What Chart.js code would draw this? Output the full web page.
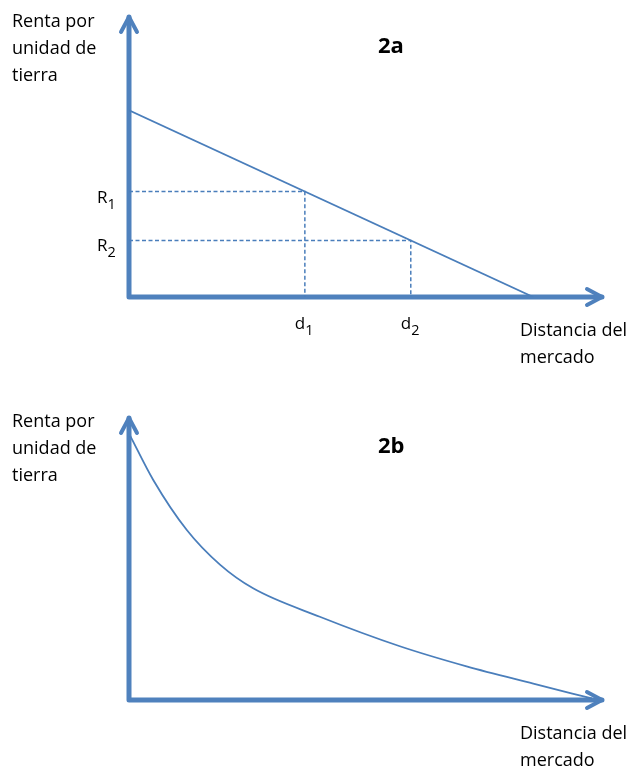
<!DOCTYPE html>
<html lang="es">
<head>
    <meta charset="UTF-8">
    <title>Renta por unidad de tierra - 2a / 2b</title>
    <script src="https://cdn.jsdelivr.net/npm/chart.js"></script>
    <style>
        body { margin: 0; background: #fff; overflow: hidden; }
        #page {
          position: relative; width: 632px; height: 767px; overflow: hidden;
          font-family: "Open Sans", sans-serif; font-size: 18px; color: #000;
        }
        canvas { position: absolute; left: 0; }
        .lbl { position: absolute; line-height: 27px; white-space: nowrap; }
        .mark { font-size: 17px; }
        .title { font-weight: bold; font-size: 22px; }
        sub { font-size: 0.85em; vertical-align: -0.4em; line-height: 0; }
    </style>
</head>
<body>
<div id="page">
    <canvas id="chartA" width="632" height="380" style="top:0"></canvas>
    <canvas id="chartB" width="632" height="367" style="top:400px"></canvas>
</div>
<script>
    // axis ranges (arbitrary units)
    const xMax = 11.7;
    const yMax = 15;

    // 2a: linear rent gradient
    const distA = [0, 10];
    const rentA = [10, 0];
    // marked points on the line
    const markNames = ['1', '2'];
    const markDist = [4.35, 6.97];
    const markRent = [5.65, 3.03];

    // 2b: convex rent gradient
    const distB = [0.03, 0.6, 1.43, 2.25, 3.07, 4.72, 6.7, 8.35, 10.0, 11.45];
    const rentB = [14.05, 11.7, 9.04, 7.2, 5.94, 4.43, 2.86, 1.79, 0.87, 0.08];

    const titles = ['2a', '2b'];
    const yTitle = ['Renta por', 'unidad de', 'tierra'];
    const xTitle = ['Distancia del', 'mercado'];

    const blue = '#4a7ebb';
    const axisBlue = '#4f81bd';

    const toPts = (xs, ys) => xs.map((v, i) => ({ x: v, y: ys[i] }));

    // thick axes with open arrow heads
    const arrowAxes = {
        id: 'arrowAxes',
        beforeDatasetsDraw(chart) {
            const { ctx, scales: { x, y } } = chart;
            const x0 = x.getPixelForValue(0), y0 = y.getPixelForValue(0);
            const xt = x.getPixelForValue(x.max), yt = y.getPixelForValue(y.max);
            ctx.save();
            ctx.strokeStyle = axisBlue;
            ctx.lineWidth = 5;
            ctx.lineCap = 'round';
            ctx.lineJoin = 'round';
            ctx.beginPath();
            ctx.moveTo(x0, yt);
            ctx.lineTo(x0, y0);
            ctx.lineTo(xt, y0);
            ctx.stroke();
            ctx.lineWidth = 4;
            ctx.beginPath();
            ctx.moveTo(x0 - 8, yt + 15); ctx.lineTo(x0, yt); ctx.lineTo(x0 + 8, yt + 15);
            ctx.moveTo(xt - 15, y0 - 8); ctx.lineTo(xt, y0); ctx.lineTo(xt - 15, y0 + 8);
            ctx.stroke();
            ctx.restore();
        }
    };

    function makeChart(id, datasets, padding) {
        return new Chart(document.getElementById(id), {
            type: 'scatter',
            data: { datasets: datasets },
            options: {
                responsive: false,
                animation: false,
                devicePixelRatio: 1,
                layout: { padding: padding },
                plugins: { legend: { display: false }, tooltip: { enabled: false } },
                elements: { point: { radius: 0, hoverRadius: 0 } },
                scales: {
                    x: { type: 'linear', min: 0, max: xMax, display: false },
                    y: { type: 'linear', min: 0, max: yMax, display: false }
                }
            },
            plugins: [arrowAxes]
        });
    }

    // dashed guides: from y axis to the point, then down to x axis
    const guides = markDist.map((d, i) => ({
        data: [{ x: 0, y: markRent[i] }, { x: d, y: markRent[i] }, { x: d, y: 0 }],
        showLine: true, borderColor: blue, borderWidth: 1.5, borderDash: [4, 2.5], fill: false
    }));

    const chartA = makeChart('chartA', [
        { data: toPts(distA, rentA), showLine: true, borderColor: blue, borderWidth: 1.8, fill: false },
        ...guides
    ], { left: 129, right: 30, top: 17, bottom: 83 });

    const chartB = makeChart('chartB', [
        { data: toPts(distB, rentB), showLine: true, borderColor: blue, borderWidth: 1.8,
          cubicInterpolationMode: 'monotone', fill: false }
    ], { left: 129, right: 30, top: 18, bottom: 67 });

    // text labels
    const page = document.getElementById('page');
    function addLabel(html, left, top, cls) {
        const el = document.createElement('div');
        el.className = 'lbl' + (cls ? ' ' + cls : '');
        el.innerHTML = html;
        el.style.left = left + 'px';
        el.style.top = top + 'px';
        page.appendChild(el);
    }

    [[chartA, 0], [chartB, 400]].forEach(([chart, offset], k) => {
        const sx = chart.scales.x, sy = chart.scales.y;
        const y0 = offset + sy.getPixelForValue(0);
        addLabel(yTitle.join('<br>'), 12, offset + 7);
        addLabel(titles[k], 378, offset + 31, 'title');
        addLabel(xTitle.join('<br>'), 520, y0 + 19);
        if (k === 0) {
            markNames.forEach((n, i) => {
                addLabel('R<sub>' + n + '</sub>', 97, offset + sy.getPixelForValue(markRent[i]) - 9, 'mark');
                addLabel('d<sub>' + n + '</sub>', sx.getPixelForValue(markDist[i]) - 10, y0 + 12, 'mark');
            });
        }
    });
</script>
</body>
</html>
